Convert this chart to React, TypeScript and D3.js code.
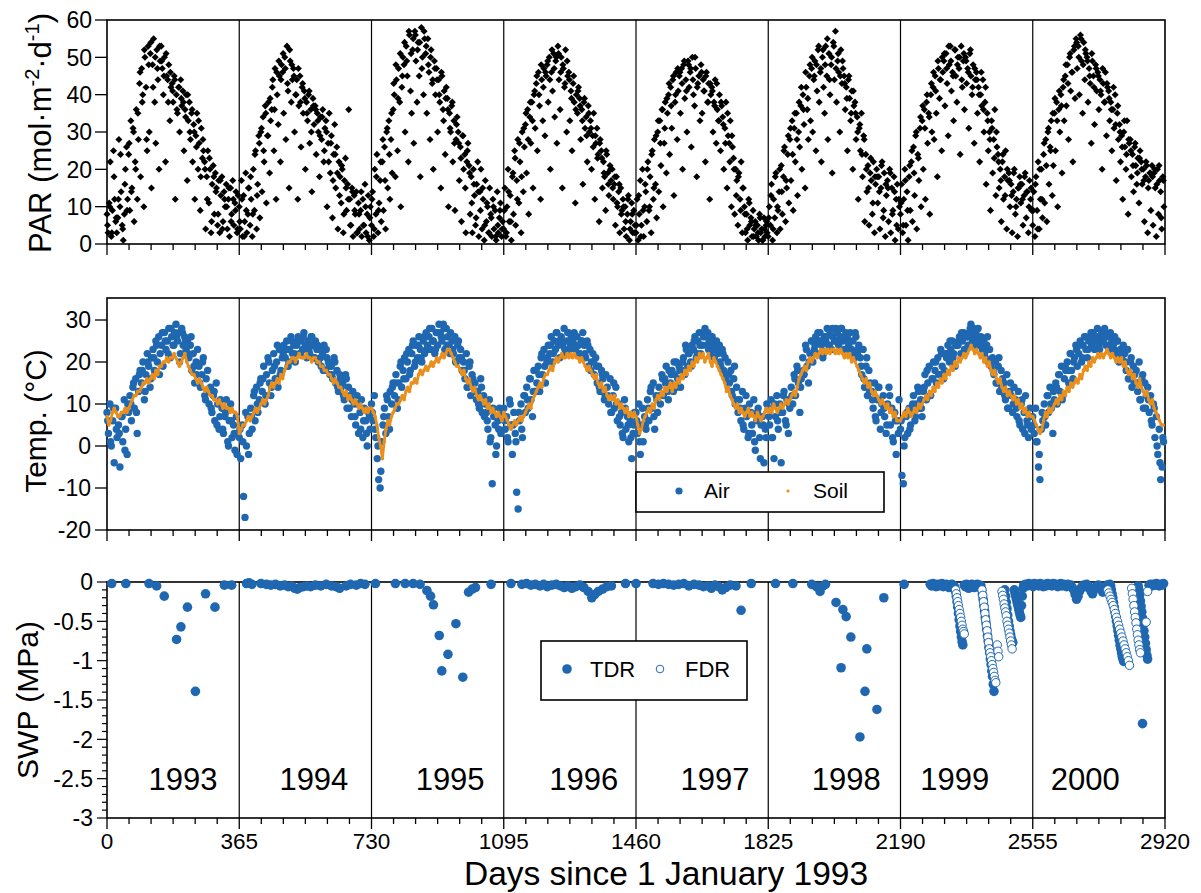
import React from 'react';
import * as d3 from 'd3';

// ---------- axis / label data ----------
const yearStartDays = [0, 365, 730, 1095, 1460, 1825, 2190, 2555, 2920];
const xTickLabels = ['0', '365', '730', '1095', '1460', '1825', '2190', '2555', '2920'];
const yearLabels = ['1993', '1994', '1995', '1996', '1997', '1998', '1999', '2000'];
const yearLabelDays = [210, 571, 947, 1316, 1678, 2040, 2340, 2700];
const parTicks = [0, 10, 20, 30, 40, 50, 60];
const tempTicks = [-20, -10, 0, 10, 20, 30];
const swpTicks = [0, -0.5, -1, -1.5, -2, -2.5, -3];
const swpTickLabels = ['0', '-0.5', '-1', '-1.5', '-2', '-2.5', '-3'];

// ---------- PAR (mol m-2 d-1), one value every 3 days per year ----------
const par1993 = [8,3,11,22,2,9,25,12,6,3, 7,28,10,14,5,1,8,20,26,12, 24,9,33,15,31,6,22,36,12,28, 43,18,47,40,10,50,42,25,53,30, 51,15,48,55,38,27,52,44,20,49, 53,47,40,50,22,45,44,48,33,42, 43,38,45,12,40,35,42,30,44,37, 41,25,36,40,17,33,38,28,35,22, 32,12,29,35,20,27,9,31,23,25, 22,4,18,25,11,20,3,16,21,8, 19,15,5,17,3,13,18,6,14,10, 16,4,12,2,15,8,17,5,11,14,3,13];
const par1994 = [10,4,17,2,13,6,19,3,8,15, 5,12,2,20,9,25,4,16,29,7, 30,14,34,22,37,11,29,38,19,33, 36,44,25,47,12,40,32,45,22,48, 46,35,50,28,53,41,15,49,38,44, 47,30,40,44,12,37,45,26,42,35, 41,20,38,33,40,27,36,14,39,32, 37,24,35,30,18,34,28,36,22,31, 33,10,27,35,19,29,7,24,32,15, 26,4,22,18,11,20,3,17,23,9, 16,36,12,5,15,2,13,8,14,3, 11,4,9,2,12,5,16,3,8,13,1,10];
const par1995 = [5,14,2,20,8,24,3,11,17,6, 22,9,26,4,30,15,33,12,28,19, 36,40,18,44,25,47,38,10,42,50, 48,30,53,45,22,56,41,35,52,27, 57,49,38,54,45,18,58,50,40,55, 51,35,55,46,28,52,43,20,49,40, 47,30,44,38,15,45,36,41,24,42, 39,10,35,30,37,22,33,9,28,34, 30,17,26,6,29,20,24,3,22,27, 21,8,18,3,20,13,5,16,22,2, 14,20,4,12,1,17,6,10,3,15, 8,2,12,4,9,1,14,3,7,11,2,6];
const par1996 = [4,15,2,10,20,6,13,1,18,8, 25,5,17,28,11,22,3,30,14,26, 32,19,36,8,34,27,38,15,40,31, 43,25,46,37,12,44,33,47,29,45, 48,38,50,20,46,41,51,34,49,27, 53,44,36,50,15,47,42,52,30,45, 46,33,41,25,43,38,11,40,35,42, 39,28,36,16,38,31,34,22,37,30, 33,20,29,35,12,27,31,24,6,28, 25,15,22,18,9,24,19,13,21,17, 20,12,16,5,18,10,14,3,15,9, 12,4,10,2,8,13,1,6,11,3,9,5];
const par1997 = [3,12,1,8,17,5,20,2,10,14, 6,22,9,18,3,25,12,28,16,7, 30,14,33,21,36,10,27,38,19,35, 40,24,42,31,44,13,38,46,28,41, 45,35,47,20,48,39,44,30,49,42, 46,26,50,40,37,47,18,43,45,33, 48,35,44,41,22,46,38,43,12,40, 42,30,38,44,27,36,33,40,25,37, 34,20,31,38,15,29,27,33,10,26, 23,8,20,17,5,19,12,22,3,15, 10,3,8,1,12,5,7,2,9,4, 6,2,5,1,8,3,4,1,7,2,5,3];
const par1998 = [2,10,5,16,1,12,7,19,3,9, 14,4,21,8,18,26,6,15,24,11, 28,17,33,9,31,22,35,13,30,26, 37,20,40,32,15,42,36,28,45,33, 47,30,44,49,25,41,52,38,46,22, 50,42,35,53,45,28,51,40,48,19, 54,44,57,38,49,46,30,52,43,47, 45,36,42,25,44,39,33,41,20,37, 38,28,34,12,31,25,35,18,29,6, 24,14,21,5,19,17,8,22,3,16, 20,11,18,4,15,22,7,19,2,13, 17,6,20,3,15,9,18,1,12,16,4,10];
const par1999 = [8,16,3,12,20,5,14,1,18,9, 22,6,26,13,29,4,24,17,31,10, 33,20,36,12,38,27,35,8,40,30, 42,28,45,35,18,47,39,44,25,46, 49,37,51,43,29,48,53,41,46,33, 52,45,38,50,47,24,53,42,49,36, 50,43,47,31,51,45,40,48,27,44, 46,35,42,22,40,37,44,30,38,16, 35,25,30,9,33,19,28,36,13,26, 24,15,20,6,22,12,18,25,4,17, 19,10,16,3,14,20,8,12,2,15, 18,11,16,5,13,19,7,14,3,17,12,9];
const par2000 = [5,14,2,18,9,22,4,12,20,7, 24,11,28,6,30,16,26,33,13,21, 35,25,38,10,36,30,40,19,42,33, 45,37,48,28,50,41,46,22,52,39, 55,47,53,40,56,49,35,54,44,51, 50,38,47,43,27,49,45,32,48,41, 46,36,44,40,20,43,38,46,29,42, 41,33,38,25,36,31,40,17,35,28, 32,22,29,12,30,26,20,33,8,27, 28,18,24,14,26,21,16,23,11,25, 22,16,20,6,18,21,3,17,19,9, 21,5,19,15,2,20,8,17,14,4,18,10];

// ---------- PAR, further readings (every 6 days, offset 1.5 days) ----------
const parX1993 = [5,10,3,18,7, 12,24,4,16,9, 27,14,30,20,35, 46,38,52,28,48, 54,42,50,47,53, 49,45,51,38,46, 41,44,36,42,39, 38,34,40,30,36, 30,26,33,18,28, 20,12,23,6,18, 14,8,17,4,12, 10,15,6,12,9, 4];
const parX1994 = [6,12,2,9,15, 18,8,24,13,27, 31,25,35,29,39, 42,36,46,49,44, 51,47,43,52,48, 45,40,47,38,43, 39,35,41,30,37, 36,33,29,34,25, 30,22,27,17,24, 19,13,21,8,15, 12,5,14,9,3, 8,14,5,10,2, 7];
const parX1995 = [12,4,18,9,22, 28,17,31,24,35, 43,48,39,51,45, 54,49,57,51,55, 56,52,54,47,57, 53,48,50,44,47, 44,40,46,33,39, 36,31,38,27,32, 27,23,29,15,25, 19,11,16,7,14, 9,15,5,11,3, 7,10,2,5,9, 4];
const parX1996 = [9,3,14,6,19, 23,12,27,18,31, 35,28,38,33,41, 45,40,48,42,46, 49,44,52,47,50, 51,46,48,43,49, 44,39,45,36,41, 37,33,39,29,35, 31,26,29,23,27, 23,19,25,16,20, 15,18,11,16,8, 10,6,12,4,8, 3];
const parX1997 = [5,13,2,9,16, 20,10,24,15,29, 33,27,36,31,39, 43,37,45,40,47, 46,43,49,41,48, 47,44,50,42,45, 46,41,45,38,43, 41,37,43,33,38, 32,27,35,22,29, 20,13,18,9,15, 8,4,11,6,2, 5,3,7,1,4, 6];
const parX1998 = [7,13,4,18,10, 20,14,25,17,29, 31,24,35,28,38, 42,36,46,39,48, 50,45,48,53,47, 52,48,55,44,50, 53,47,51,45,49, 43,39,45,35,41, 35,30,32,24,28, 20,15,23,11,18, 18,14,21,9,16, 15,19,8,14,5, 12];
const parX1999 = [11,5,17,9,21, 25,19,30,23,34, 37,31,40,34,43, 46,41,49,44,50, 51,47,53,49,45, 52,48,50,44,51, 49,46,52,42,47, 44,40,46,36,42, 33,28,31,23,30, 22,17,24,13,20, 17,13,19,10,15, 16,12,18,14,10, 15];
const parX2000 = [9,16,4,20,12, 27,21,31,25,35, 39,33,41,37,44, 48,43,51,46,53, 54,50,55,48,52, 49,45,51,42,47, 45,41,47,38,43, 39,36,42,32,37, 30,26,33,24,28, 25,21,27,19,23, 20,17,22,15,19, 18,20,16,21,7, 17];

// ---------- Air temperature (°C), one value every 4 days per year ----------
const air1993 = [8,3,10,0,6,-4,9,2, 5,-5,7,1,11,4,-2,8, 12,6,14,9,16,3,13,18, 15,20,11,17,22,19,14,21, 23,18,25,20,26,22,24,19, 27,23,25,28,21,26,24,27, 29,25,27,22,28,24,26,23, 25,21,24,18,22,15,20,23, 19,14,17,21,12,16,18,10, 14,8,12,6,15,10,4,11, 9,3,7,11,1,6,10,2, 5,-1,7,3];
const air1994 = [2,-3,5,-12,-17,0,7,3, 9,4,12,6,14,8,11,16, 13,19,10,17,21,15,12,18, 22,16,20,14,23,18,21,24, 21,25,19,23,26,22,24,20, 24,26,22,25,23,27,24,21, 25,22,26,24,21,25,23,20, 23,19,22,24,18,21,20,17, 19,16,21,15,18,13,17,14, 15,11,17,9,14,12,7,13, 10,5,12,3,8,11,2,9, 6,0,8,4];
const air1995 = [10,6,12,2,-3,-8,-10,1, 5,9,3,11,7,13,10,15, 12,17,9,15,19,14,18,21, 16,20,23,18,22,25,19,24, 21,26,23,20,25,22,27,24, 26,23,28,25,22,27,24,29, 27,25,29,23,28,26,24,27, 25,22,26,20,24,21,23,18, 20,16,22,14,19,12,17,15, 15,11,13,9,16,8,12,10, 8,4,11,2,-9,7,5,0, 6,9,3,7];
const air1996 = [9,4,7,1,11,5,-2,8, 3,-11,-15,6,10,2,12,8, 14,9,16,11,7,18,13,15, 19,13,21,17,23,15,20,24, 22,26,20,25,23,27,24,21, 26,24,28,22,25,27,23,26, 25,27,23,26,24,22,25,27, 24,21,25,19,23,20,22,17, 21,15,19,13,18,16,11,17, 14,10,16,8,12,9,14,6, 10,5,8,2,11,4,7,1, 6,-3,3,8];
const air1997 = [8,3,10,-2,5,1,7,4, 11,6,13,9,15,4,12,8, 14,10,17,12,16,19,13,18, 15,18,13,17,20,16,19,14, 18,21,17,23,19,22,20,24, 23,26,21,25,27,22,24,26, 28,24,27,25,22,26,24,23, 25,22,24,19,23,18,21,17, 20,15,18,12,16,10,14,8, 11,6,13,4,9,7,2,10, 8,3,11,-1,6,9,2,5, 7,-4,4,10];
const air1998 = [9,5,11,2,-3,7,12,4, 10,-4,8,13,6,11,3,9, 14,10,17,12,19,15,8,16, 21,17,24,19,15,22,25,20, 23,26,22,25,27,24,21,26, 25,28,24,27,23,26,25,28, 27,24,26,28,25,23,27,26, 24,27,23,25,21,26,22,24, 21,17,23,14,19,12,18,15, 13,9,15,6,11,14,4,10, 12,7,3,10,14,5,9,1, 8,-2,6,11];
const air1999 = [4,-7,-9,2,7,3,9,5, 8,12,6,10,14,9,11,7, 13,17,11,15,19,12,16,20, 18,15,21,17,23,19,16,22, 21,24,20,23,25,22,19,24, 24,26,22,25,27,23,26,24, 27,29,25,28,24,26,28,25, 26,23,25,21,24,20,23,19, 21,17,20,15,19,13,18,16, 15,11,17,9,13,12,8,14, 11,7,13,5,10,4,8,12, 6,2,9,4];
const air2000 = [7,3,9,1,-5,-8,4,6, 10,5,12,8,14,9,3,11, 15,10,17,13,19,12,16,18, 20,15,22,18,16,21,24,19, 22,25,20,24,26,23,21,25, 26,24,27,23,25,28,24,26, 27,25,28,24,26,23,27,25, 24,26,22,25,20,23,21,24, 22,18,23,16,20,14,19,17, 18,13,20,11,16,9,15,12, 14,8,12,5,10,2,7,-2, 4,-8,-5,1];

// ---------- Air temperature, further readings (every 8 days, offset 2 days) ----------
const airX1993 = [6,1,9,4, 3,7,-1,10, 10,15,8,17, 18,13,20,16, 21,24,17,27, 25,22,28,24, 26,20,27,25, 22,26,19,17, 15,20,11,13, 9,13,5,7, 4,8,0,6, 3,-2];
const airX1994 = [4,1,8,-2, 7,13,10,15, 16,12,20,14, 19,24,17,22, 23,20,25,22, 25,22,26,23, 23,26,21,24, 21,18,23,19, 17,20,14,16, 12,16,9,11, 7,10,4,6, 3,7];
const airX1995 = [8,4,0,-6, 7,12,4,14, 15,11,20,16, 22,17,24,20, 24,21,26,23, 28,25,23,27, 26,28,24,22, 23,20,25,21, 18,14,20,16, 13,10,14,7, 6,1,9,-2, 4,8];
const airX1996 = [6,2,10,5, 1,8,4,12, 11,16,13,18, 17,22,19,21, 24,22,27,25, 25,23,27,24, 26,24,22,25, 22,24,18,20, 19,14,17,12, 12,8,15,10, 7,3,9,5, 2,5];
const airX1997 = [6,1,9,5, 9,14,7,11, 12,16,15,11, 17,20,14,18, 20,24,22,19, 25,22,24,27, 26,23,25,21, 23,20,22,16, 17,13,19,11, 9,5,12,3, 5,1,8,-3, 5,2];
const airX1998 = [7,2,10,6, 8,12,5,10, 12,16,18,14, 18,23,20,25, 24,27,25,22, 26,24,28,25, 25,28,26,23, 25,22,27,23, 19,16,21,13, 11,7,14,8, 9,5,12,2, 6,3];
const airX1999 = [6,0,8,4, 10,7,13,9, 14,18,12,16, 20,17,22,18, 22,25,21,24, 25,27,23,26, 28,26,27,24, 24,22,26,20, 18,15,21,14, 12,9,15,10, 9,6,11,3, 5,7];
const airX2000 = [5,1,-2,8, 7,12,10,13, 14,17,11,19, 18,22,20,23, 24,21,26,23, 27,25,26,23, 25,27,24,26, 23,25,21,22, 20,16,21,15, 15,11,17,9, 11,6,9,0, -4,2];

// ---------- Soil temperature (°C), one value every 5 days per year ----------
const soil1993 = [7,5,6,8,9,8,7,7,8,8,9,8, 9,10,11,12,12,13,13,14,15,15,16,15, 16,17,16,18,17,19,19,20,20,21,20,21, 21,22,21,20,19,20,21,22,20,19,18,17, 17,16,15,16,15,14,13,14,13,12,12,11, 11,10,11,10,9,10,9,9,8,9,8,8,7];
const soil1994 = [3,4,5,5,6,7,6,7,8,9,8,9, 10,11,10,11,12,14,15,14,15,16,15,17, 16,18,19,20,20,21,21,20,21,22,21,21, 21,22,21,21,20,21,21,20,20,19,19,18, 18,17,17,16,15,16,15,14,14,13,12,13, 11,12,11,10,11,10,9,10,9,8,9,8,9];
const soil1995 = [9,8,7,5,2,0,-3,1,4,6,5,7, 8,9,10,10,11,12,11,13,14,13,15,15, 16,15,17,18,17,18,19,18,19,20,19,20, 21,20,21,22,21,22,23,23,22,21,20,19, 19,18,17,18,16,15,16,14,13,14,12,11, 12,11,10,11,9,10,8,9,8,7,8,7,6];
const soil1996 = [8,7,6,5,4,5,6,5,6,7,6,7, 8,9,10,9,11,12,13,14,15,14,16,17, 17,18,19,18,20,21,20,21,22,21,21,22, 21,22,21,22,21,21,20,21,20,19,18,19, 18,17,16,17,15,14,15,13,14,12,11,12, 11,12,10,11,9,10,9,8,9,7,8,7,8];
const soil1997 = [7,5,3,4,6,7,8,9,8,10,9,11, 12,11,13,12,14,13,14,15,13,15,14,16, 15,17,16,18,17,19,18,20,19,21,20,22, 21,22,20,21,22,20,19,21,20,19,18,17, 16,15,13,14,12,11,10,9,10,8,9,8, 7,8,9,7,8,7,6,8,7,6,7,8,9];
const soil1998 = [8,9,8,10,9,8,9,10,9,10,11,10, 11,12,13,12,14,16,17,18,19,18,20,21, 20,21,22,21,22,23,22,23,22,23,22,23, 23,22,23,22,23,22,21,22,21,22,20,21, 20,19,18,17,16,15,16,14,15,13,12,13, 12,11,10,11,10,9,10,8,9,7,8,6,6];
const soil1999 = [6,7,8,7,9,8,7,8,9,8,10,9, 10,11,12,11,13,12,14,13,15,14,16,15, 17,16,18,17,19,18,20,19,21,20,21,22, 21,22,23,24,23,22,23,22,21,22,20,21, 19,20,18,17,18,16,15,16,14,13,14,12, 13,12,11,12,10,11,9,10,8,9,7,8,7];
const soil2000 = [7,6,5,4,3,4,6,8,7,9,8,9, 10,11,10,12,11,13,12,14,13,15,14,15, 16,15,17,16,18,19,18,20,19,21,20,21, 22,21,22,21,22,23,22,21,22,21,20,21, 20,21,19,20,18,17,18,16,17,15,14,16, 14,13,12,13,11,10,11,9,8,7,6,5,5];

// ---------- Soil water potential (MPa), [day, value] ----------
const tdr1993 = [[13,-0.02],[52,-0.02],[116,-0.02],[137,-0.05],[158,-0.18],[192,-0.73],[204,-0.57],[222,-0.32],[244,-1.39],[272,-0.15],[298,-0.32],[324,-0.04],[344,-0.04]];
const tdr1994 = [[385,-0.02],[392,-0.01],[400,-0.03],[425,-0.02],[440,-0.03],[452,-0.04],[465,-0.03],[478,-0.05],[490,-0.04],[500,-0.06],[510,-0.05],[518,-0.08],[525,-0.09],[532,-0.07],[542,-0.06],[552,-0.05],[562,-0.06],[575,-0.04],[590,-0.05],[605,-0.03],[620,-0.05],[632,-0.06],[642,-0.08],[660,-0.05],[672,-0.03],[688,-0.04],[700,-0.02],[712,-0.03],[741,-0.02],[796,-0.02]];
const tdr1995 = [[823,-0.02],[845,-0.02],[864,-0.03],[883,-0.11],[893,-0.18],[901,-0.29],[917,-0.68],[924,-1.13],[941,-0.92],[963,-0.53],[982,-1.21],[998,-0.13],[1008,-0.09],[1017,-0.07],[1060,-0.03]];
const tdr1996 = [[1115,-0.02],[1145,-0.03],[1158,-0.02],[1170,-0.04],[1182,-0.03],[1195,-0.05],[1205,-0.03],[1215,-0.06],[1228,-0.04],[1240,-0.03],[1252,-0.05],[1262,-0.07],[1272,-0.05],[1283,-0.08],[1294,-0.06],[1305,-0.04],[1316,-0.07],[1328,-0.12],[1338,-0.2],[1346,-0.16],[1356,-0.12],[1368,-0.09],[1380,-0.06],[1392,-0.05],[1431,-0.02],[1460,-0.02]];
const tdr1997 = [[1507,-0.02],[1522,-0.03],[1536,-0.02],[1550,-0.03],[1564,-0.04],[1578,-0.03],[1592,-0.02],[1606,-0.05],[1620,-0.03],[1634,-0.04],[1646,-0.06],[1658,-0.05],[1668,-0.08],[1678,-0.04],[1688,-0.06],[1698,-0.1],[1708,-0.07],[1720,-0.04],[1736,-0.05],[1750,-0.36],[1778,-0.02]];
const tdr1998 = [[1845,-0.02],[1893,-0.02],[1945,-0.03],[1958,-0.06],[1968,-0.12],[1976,-0.05],[1983,-0.03],[2012,-0.26],[2026,-1.09],[2031,-0.35],[2040,-0.44],[2053,-0.7],[2078,-1.97],[2092,-1.39],[2097,-0.85],[2125,-1.62],[2144,-0.2]];
const tdr1999 = [[2200,-0.03],[2272,-0.03],[2276,-0.05],[2280,-0.02],[2284,-0.04],[2288,-0.06],[2292,-0.03],[2296,-0.05],[2300,-0.04],[2304,-0.02],[2308,-0.06],[2312,-0.04],[2316,-0.03],[2320,-0.05],[2324,-0.07],[2328,-0.04],[2332,-0.03],[2336,-0.05],
  [2338,-0.05],[2340,-0.08],[2342,-0.12],[2344,-0.18],[2346,-0.25],[2348,-0.32],[2350,-0.4],[2352,-0.48],[2354,-0.56],[2356,-0.63],[2358,-0.7],[2360,-0.76],[2362,-0.8],
  [2366,-0.04],[2369,-0.06],[2372,-0.03],[2375,-0.05],[2378,-0.08],[2381,-0.04],[2384,-0.06],[2387,-0.03],[2390,-0.05],[2393,-0.07],[2396,-0.04],[2399,-0.06],[2402,-0.03],[2405,-0.05],[2408,-0.04],
  [2412,-0.05],[2414,-0.1],[2416,-0.16],[2418,-0.22],[2420,-0.3],[2422,-0.37],[2424,-0.45],[2426,-0.52],[2428,-0.6],[2430,-0.68],[2432,-0.75],[2434,-0.83],[2436,-0.9],[2438,-0.98],[2440,-1.05],[2442,-1.13],[2444,-1.2],[2446,-1.3],[2448,-1.39],
  [2478,-0.1],[2480,-0.18],[2482,-0.26],[2484,-0.34],[2486,-0.42],[2488,-0.5],[2490,-0.56],[2492,-0.62],[2494,-0.67],[2496,-0.72],[2498,-0.75],[2500,-0.77],
  [2504,-0.1],[2506,-0.14],[2508,-0.18],[2510,-0.22],[2512,-0.26],[2514,-0.3],[2516,-0.34],[2518,-0.38],[2520,-0.42],[2522,-0.45],[2524,-0.3],[2526,-0.18],[2528,-0.08],[2530,-0.04]];
const tdr2000 = [[2536,-0.03],[2540,-0.05],[2544,-0.02],[2548,-0.04],[2552,-0.03],[2556,-0.06],[2560,-0.02],[2564,-0.04],[2568,-0.03],[2572,-0.05],
  [2576,-0.02],[2580,-0.04],[2584,-0.06],[2588,-0.03],[2592,-0.05],[2596,-0.02],[2600,-0.04],[2604,-0.03],[2608,-0.05],[2612,-0.02],
  [2616,-0.04],[2620,-0.03],[2624,-0.06],[2628,-0.04],[2632,-0.02],[2636,-0.05],[2640,-0.03],[2644,-0.04],[2648,-0.06],[2652,-0.03],
  [2656,-0.05],[2660,-0.04],[2664,-0.07],[2668,-0.1],[2672,-0.16],[2676,-0.22],[2680,-0.18],[2684,-0.12],[2688,-0.08],[2692,-0.05],
  [2696,-0.04],[2700,-0.06],[2704,-0.03],[2708,-0.05],[2712,-0.08],[2716,-0.12],[2720,-0.15],[2724,-0.1],[2728,-0.07],[2732,-0.05],
  [2736,-0.04],[2740,-0.06],[2744,-0.09],[2748,-0.13],[2752,-0.1],[2756,-0.06],[2760,-0.04],[2764,-0.05],[2768,-0.03],
  [2770,-0.05],[2772,-0.1],[2774,-0.15],[2776,-0.2],[2778,-0.26],[2780,-0.32],[2782,-0.38],[2784,-0.44],[2786,-0.5],[2788,-0.56],[2790,-0.62],[2792,-0.68],[2794,-0.74],[2796,-0.8],[2798,-0.85],[2800,-0.9],[2802,-0.95],[2804,-0.98],[2806,-1.01],
  [2846,-0.05],[2848,-0.1],[2850,-0.17],[2852,-0.24],[2854,-0.31],[2856,-0.38],[2858,-0.46],[2860,-0.54],[2862,-0.62],[2864,-0.7],[2866,-0.78],[2868,-0.86],[2870,-0.93],[2872,-0.98],
  [2858,-1.8],[2876,-0.04],[2880,-0.03],[2884,-0.05],[2888,-0.03],[2892,-0.04],[2896,-0.02],[2900,-0.03],[2904,-0.05],[2908,-0.03],[2912,-0.04],[2916,-0.02]];
const fdr1999 = [[2342,-0.1],[2344,-0.15],[2346,-0.2],[2348,-0.25],[2350,-0.3],[2352,-0.35],[2354,-0.4],[2356,-0.45],[2358,-0.5],[2360,-0.55],[2362,-0.6],[2364,-0.63],[2366,-0.66],
  [2415,-0.1],[2417,-0.17],[2419,-0.25],[2421,-0.32],[2423,-0.4],[2425,-0.48],[2427,-0.55],[2429,-0.62],[2431,-0.7],[2433,-0.77],[2435,-0.85],[2437,-0.9],[2439,-0.95],[2441,-1.0],[2443,-1.05],[2445,-1.1],[2447,-1.15],[2449,-1.2],[2451,-1.25],[2453,-1.28],[2457,-0.8],[2459,-0.88],[2461,-0.95],
  [2470,-0.12],[2472,-0.17],[2474,-0.22],[2476,-0.28],[2478,-0.33],[2480,-0.38],[2482,-0.43],[2484,-0.5],[2486,-0.55],[2488,-0.6],[2490,-0.65],[2492,-0.7],[2494,-0.75],[2496,-0.8],[2498,-0.85]];
const fdr2000 = [[2762,-0.1],[2765,-0.14],[2768,-0.18],[2771,-0.22],[2774,-0.26],[2777,-0.3],[2780,-0.35],[2783,-0.4],[2786,-0.45],[2789,-0.5],[2792,-0.55],[2795,-0.6],[2798,-0.65],[2801,-0.7],[2804,-0.75],[2807,-0.8],[2810,-0.85],[2813,-0.9],[2816,-0.95],[2819,-1.0],[2822,-1.06],
  [2828,-0.08],[2830,-0.15],[2832,-0.22],[2834,-0.3],[2836,-0.38],[2838,-0.45],[2840,-0.52],[2842,-0.6],[2844,-0.67],[2846,-0.74],[2848,-0.8],[2850,-0.86],[2852,-0.9],
  [2868,-0.51],[2872,-0.12]];

// ---------- assemble ----------
type Pt = { day: number; v: number };
const byYear = (years: number[][], offset: number): Pt[] =>
  years.flatMap((arr, yi) => arr.map((v, i) => ({ day: yearStartDays[yi] + offset + (i * 365) / arr.length, v })));
const parData = [
  ...byYear([par1993, par1994, par1995, par1996, par1997, par1998, par1999, par2000], 0),
  ...byYear([parX1993, parX1994, parX1995, parX1996, parX1997, parX1998, parX1999, parX2000], 1.5),
];
const airData = [
  ...byYear([air1993, air1994, air1995, air1996, air1997, air1998, air1999, air2000], 0),
  ...byYear([airX1993, airX1994, airX1995, airX1996, airX1997, airX1998, airX1999, airX2000], 2),
];
const soilData = byYear([soil1993, soil1994, soil1995, soil1996, soil1997, soil1998, soil1999, soil2000], 0);
const tdrData: Pt[] = [...tdr1993, ...tdr1994, ...tdr1995, ...tdr1996, ...tdr1997, ...tdr1998, ...tdr1999, ...tdr2000].map(([day, v]) => ({ day, v }));
const fdrData: Pt[] = [...fdr1999, ...fdr2000].map(([day, v]) => ({ day, v }));

const BLUE = '#1f68b1';
const ORANGE = '#ea8f1c';
const FONT = 'Liberation Sans, Arial, Helvetica, sans-serif';

const x = d3.scaleLinear().domain([0, 2920]).range([107, 1165]);
const yPar = d3.scaleLinear().domain([0, 60]).range([244, 20]);
const yTemp = d3.scaleLinear().domain([-20, 35.24]).range([530, 298]);
const ySwp = d3.scaleLinear().domain([-3, 0]).range([818, 582]);

const diamond = d3.symbol().type(d3.symbolSquare).size(25)() as string;
const minorX = d3.range(0, 2920.01, 365 / 6);
const swpMinor = d3.range(0, 31).map((i) => -i / 10);

function Frame({ y0, y1 }: { y0: number; y1: number }) {
  return (
    <g>
      {yearStartDays.slice(1, -1).map((d) => (
        <line key={d} x1={x(d)} x2={x(d)} y1={y0} y2={y1} stroke="#000" strokeWidth={1.2} />
      ))}
      {minorX.map((d, i) => {
        const major = i % 6 === 0;
        return <line key={i} x1={x(d)} x2={x(d)} y1={y1} y2={y1 + (major ? 11 : 6)} stroke="#000" strokeWidth={1.3} />;
      })}
      <rect x={x(0)} y={y0} width={x(2920) - x(0)} height={y1 - y0} fill="none" stroke="#000" strokeWidth={1.6} />
    </g>
  );
}

export default function App() {
  const soilLine = d3
    .line<Pt>()
    .x((d) => x(d.day))
    .y((d) => yTemp(d.v));
  return (
    <svg width={1201} height={893} style={{ position: 'absolute', left: 0, top: 0, background: '#fff' }} fontFamily={FONT}>
      <rect x={0} y={0} width={1201} height={893} fill="#fff" />

      {/* PAR panel */}
      <Frame y0={20} y1={244} />
      {parData.map((d, i) => (
        <path key={i} d={diamond} transform={`translate(${x(d.day)},${yPar(d.v)}) rotate(45)`} fill="#000" />
      ))}
      {parTicks.map((t) => (
        <g key={t}>
          <line x1={95} x2={107} y1={yPar(t)} y2={yPar(t)} stroke="#000" strokeWidth={1.3} />
          <text x={92} y={yPar(t)} dy="0.36em" textAnchor="end" fontSize={23}>{t}</text>
        </g>
      ))}
      <text transform="translate(51,133) rotate(-90)" textAnchor="middle" fontSize={31}>
        PAR (mol·m<tspan dy={-12} fontSize={20}>-2</tspan><tspan dy={12}>·d</tspan><tspan dy={-12} fontSize={20}>-1</tspan><tspan dy={12}>)</tspan>
      </text>

      {/* Temperature panel */}
      <Frame y0={298} y1={530} />
      {airData.map((d, i) => (
        <circle key={i} cx={x(d.day)} cy={yTemp(d.v)} r={3.7} fill={BLUE} />
      ))}
      <path d={soilLine(soilData) as string} fill="none" stroke={ORANGE} strokeWidth={2.8} strokeLinejoin="round" />
      {soilData.map((d, i) => (
        <circle key={i} cx={x(d.day)} cy={yTemp(d.v)} r={1.8} fill={ORANGE} />
      ))}
      {tempTicks.map((t) => (
        <g key={t}>
          <line x1={95} x2={107} y1={yTemp(t)} y2={yTemp(t)} stroke="#000" strokeWidth={1.3} />
          <text x={91} y={yTemp(t)} dy="0.36em" textAnchor="end" fontSize={23}>{t}</text>
        </g>
      ))}
      <text transform="translate(46,421) rotate(-90)" textAnchor="middle" fontSize={30}>Temp. (°C)</text>
      <g>
        <rect x={636} y={472} width={248} height={40} fill="#fff" stroke="#000" strokeWidth={1.6} />
        <circle cx={679} cy={491} r={3.6} fill={BLUE} />
        <text x={704} y={498} fontSize={21}>Air</text>
        <circle cx={788} cy={491} r={1.6} fill={ORANGE} />
        <text x={813} y={498} fontSize={21}>Soil</text>
      </g>

      {/* SWP panel */}
      <Frame y0={582} y1={818} />
      {tdrData.map((d, i) => (
        <circle key={i} cx={x(d.day)} cy={ySwp(d.v)} r={4.8} fill={BLUE} />
      ))}
      {fdrData.map((d, i) => (
        <circle key={i} cx={x(d.day)} cy={ySwp(d.v)} r={4.2} fill="#fff" stroke={BLUE} strokeWidth={1} />
      ))}
      {swpMinor.map((t, i) => (
        <line key={i} x1={i % 5 === 0 ? 97 : 102} x2={107} y1={ySwp(t)} y2={ySwp(t)} stroke="#000" strokeWidth={1.2} />
      ))}
      {swpTicks.map((t, i) => (
        <text key={t} x={93} y={ySwp(t)} dy="0.36em" textAnchor="end" fontSize={23}>{swpTickLabels[i]}</text>
      ))}
      <text transform="translate(38,700) rotate(-90)" textAnchor="middle" fontSize={30}>SWP (MPa)</text>
      <g>
        <rect x={541} y={641} width={206} height={59} fill="#fff" stroke="#000" strokeWidth={1.6} />
        <circle cx={567} cy={669} r={4.8} fill={BLUE} />
        <text x={590} y={677} fontSize={22}>TDR</text>
        <circle cx={660} cy={669} r={3.8} fill="#fff" stroke={BLUE} strokeWidth={1} />
        <text x={685} y={677} fontSize={22}>FDR</text>
      </g>
      {yearLabels.map((l, i) => (
        <text key={l} x={x(yearLabelDays[i])} y={790} textAnchor="middle" fontSize={31}>{l}</text>
      ))}

      {/* X axis labels */}
      {yearStartDays.map((d, i) => (
        <text key={d} x={x(d)} y={849} textAnchor="middle" fontSize={22.5}>{xTickLabels[i]}</text>
      ))}
      <text x={666} y={885} textAnchor="middle" fontSize={33.5}>Days since 1 January 1993</text>
    </svg>
  );
}
